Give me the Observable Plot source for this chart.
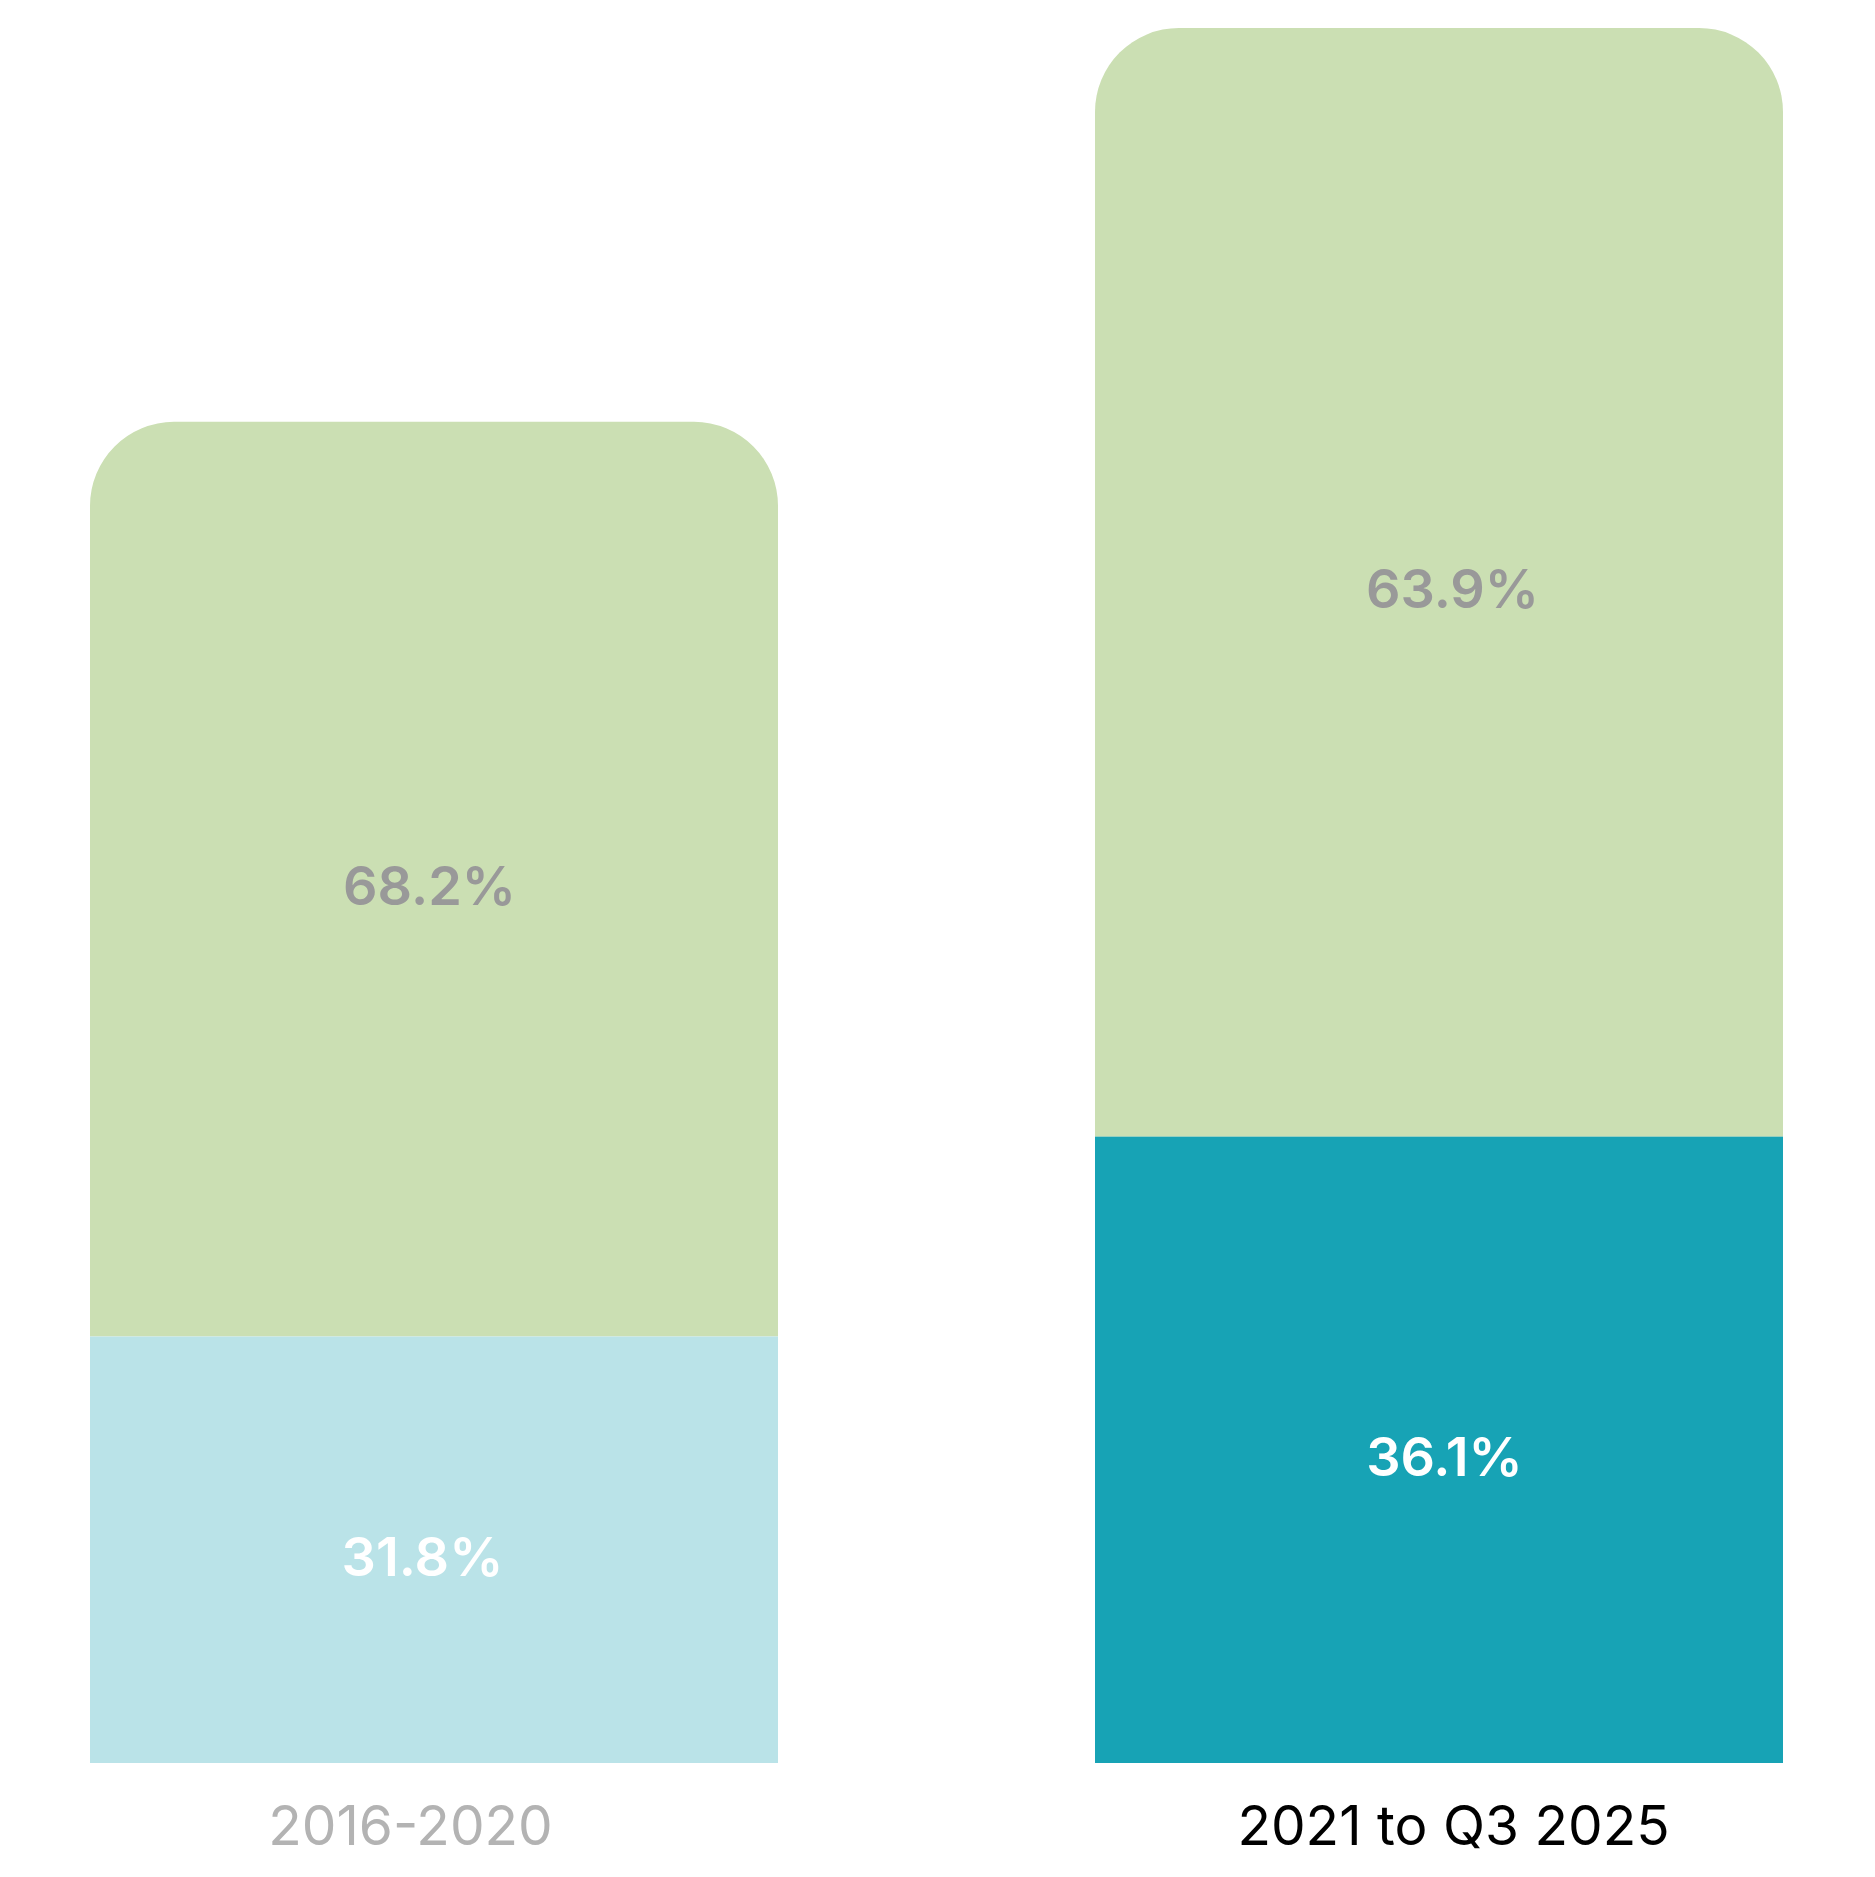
<!DOCTYPE html>
<html>
<head>
<meta charset="utf-8">
<script src="https://cdn.jsdelivr.net/npm/d3@7"></script>
<script src="https://cdn.jsdelivr.net/npm/@observablehq/plot@0.6"></script>
<style>
  html, body { margin: 0; padding: 0; background: #ffffff; overflow: hidden; }
  #chart svg { display: block; }
</style>
</head>
<body>
<div id="chart"></div>
<script>
// ---- data ----
const periods = ["2016-2020", "2021 to Q3 2025"];
// relative total bar height (right bar = 100)
const totals = [77.3, 100];
// share of each bar (bottom segment, top segment), in %
const bottomShare = [31.8, 36.1];
const topShare = [68.2, 63.9];
// colours
const bottomColors = ["#bae3e8", "#17a3b5"];
const topColor = "#cbdfb3";
const periodLabelColors = ["#b3b3b3", "#000000"];

// ---- table built from the arrays ----
const bottomRows = periods.map((p, i) => ({
  period: p, y1: 0, y2: totals[i] * bottomShare[i] / 100,
  share: bottomShare[i], fill: bottomColors[i], labelFill: "#ffffff"
}));
const topRows = periods.map((p, i) => ({
  period: p, y1: totals[i] * bottomShare[i] / 100, y2: totals[i],
  share: topShare[i], fill: topColor, labelFill: "#999999"
}));
const labelRows = periods.map((p, i) => ({period: p, color: periodLabelColors[i]}));

// small horizontal nudges of the value labels, as in the original
const valueLabel = (rows, dx) => Plot.text(rows, {
  x: "period",
  y: d => (d.y1 + d.y2) / 2,
  text: d => d.share.toFixed(1) + "%",
  fill: "labelFill",
  fontSize: 54,
  fontWeight: 600,
  dy: 8,
  dx
});

const W = 1875, H = 1877;
const chart = Plot.plot({
  width: W,
  height: H,
  marginLeft: 90,
  marginRight: 91,
  marginTop: 28,
  marginBottom: 114,
  style: {fontFamily: "Inter, 'Noto Sans', sans-serif", background: "#ffffff"},
  x: {domain: periods, paddingInner: 0.315, paddingOuter: 0, axis: null},
  y: {domain: [0, d3.max(totals)], axis: null},
  color: {type: "identity"},
  marks: [
    Plot.rectY(topRows, {x: "period", y1: "y1", y2: "y2", fill: "fill", ry2: 84}),
    Plot.rectY(bottomRows, {x: "period", y1: "y1", y2: "y2", fill: "fill"}),
    valueLabel(topRows.slice(0, 1), -5),
    valueLabel(bottomRows.slice(0, 1), -12),
    valueLabel(topRows.slice(1), 13),
    valueLabel(bottomRows.slice(1), 5),
    Plot.text(labelRows.slice(0, 1), {
      x: "period", frameAnchor: "bottom", lineAnchor: "middle", text: "period", fill: "color",
      fontSize: 55, fontWeight: 400, dy: 64, dx: -24
    }),
    Plot.text(labelRows.slice(1), {
      x: "period", frameAnchor: "bottom", lineAnchor: "middle", text: "period", fill: "color",
      fontSize: 55, fontWeight: 400, dy: 64, dx: 14
    })
  ]
});
document.getElementById("chart").appendChild(chart);
</script>
</body>
</html>
